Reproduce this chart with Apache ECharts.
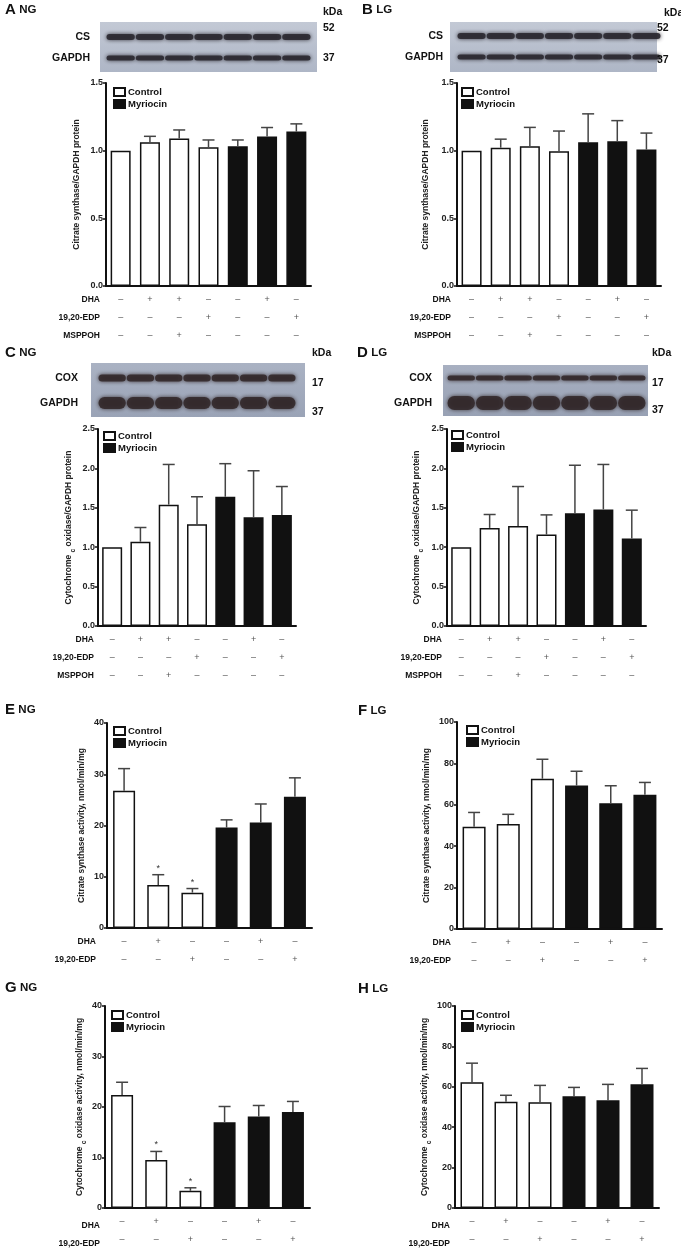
<!DOCTYPE html>
<html>
<head>
<meta charset="utf-8">
<title>Citrate synthase and cytochrome c oxidase</title>
<script src="https://cdn.jsdelivr.net/npm/echarts@6.0.0/dist/echarts.min.js"></script>
<style>
  html, body { margin: 0; padding: 0; background: #fff; }
  #main { width: 681px; height: 1249px; }
</style>
</head>
<body>
<div id="main"></div>
<script>
const FONT = '"Liberation Sans", Arial, sans-serif';

// lanes for the protein panels (A-D)
const proteinLanes = ['Vehicle', 'DHA', 'DHA+MSPPOH', '19,20-EDP', 'Myriocin', 'Myriocin+DHA', 'Myriocin+19,20-EDP'];
const proteinGroup = ['Control', 'Control', 'Control', 'Control', 'Myriocin', 'Myriocin', 'Myriocin'];
const proteinDHA = [0, 1, 1, 0, 0, 1, 0];
const proteinEDP = [0, 0, 0, 1, 0, 0, 1];
const proteinMSPPOH = [0, 0, 1, 0, 0, 0, 0];

// lanes for the activity panels (E-H)
const activityLanes = ['Vehicle', 'DHA', '19,20-EDP', 'Myriocin', 'Myriocin+DHA', 'Myriocin+19,20-EDP'];
const activityGroup = ['Control', 'Control', 'Control', 'Myriocin', 'Myriocin', 'Myriocin'];
const activityDHA = [0, 1, 0, 0, 1, 0];
const activityEDP = [0, 0, 1, 0, 0, 1];

// A - NG, citrate synthase / GAPDH
const csProteinNG = [1.00, 1.062, 1.089, 1.025, 1.032, 1.104, 1.141];
const csProteinNGErr = [0, 0.044, 0.064, 0.054, 0.047, 0.067, 0.057];
// B - LG, citrate synthase / GAPDH
const csProteinLG = [1.00, 1.022, 1.032, 0.995, 1.062, 1.07, 1.008];
const csProteinLGErr = [0, 0.063, 0.14, 0.15, 0.21, 0.152, 0.122];
// C - NG, cytochrome c oxidase / GAPDH
const coxProteinNG = [1.00, 1.07, 1.54, 1.29, 1.64, 1.38, 1.41];
const coxProteinNGErr = [0, 0.18, 0.51, 0.35, 0.42, 0.59, 0.36];
// D - LG, cytochrome c oxidase / GAPDH
const coxProteinLG = [1.00, 1.245, 1.27, 1.16, 1.43, 1.48, 1.11];
const coxProteinLGErr = [0, 0.17, 0.50, 0.25, 0.61, 0.57, 0.36];
// E - NG, citrate synthase activity
const csActivityNG = [26.8, 8.4, 6.9, 19.6, 20.6, 25.6];
const csActivityNGErr = [4.3, 2.0, 0.8, 1.5, 3.6, 3.7];
const csActivityNGStars = ['', '*', '*', '', '', ''];
// F - LG, citrate synthase activity
const csActivityLG = [49.4, 50.7, 72.6, 69.3, 60.8, 64.8];
const csActivityLGErr = [6.9, 4.7, 9.4, 6.9, 8.4, 6.0];
// G - NG, cytochrome c oxidase activity
const coxActivityNG = [22.4, 9.5, 3.4, 17.0, 18.1, 19.0];
const coxActivityNGErr = [2.5, 1.7, 0.6, 3.1, 2.2, 2.1];
const coxActivityNGStars = ['', '*', '*', '', '', ''];
// H - LG, cytochrome c oxidase activity
const coxActivityLG = [62.3, 52.6, 52.4, 55.3, 53.4, 61.3];
const coxActivityLGErr = [9.4, 3.2, 8.3, 4.4, 7.8, 7.8];

const proteinRows = [['DHA', proteinDHA], ['19,20-EDP', proteinEDP], ['MSPPOH', proteinMSPPOH]];
const activityRows = [['DHA', activityDHA], ['19,20-EDP', activityEDP]];

const csProteinName = 'Citrate synthase/GAPDH protein';
const coxProteinName = 'Cytochrome {s|c} oxidase/GAPDH protein';
const csActivityName = 'Citrate synthase activity, nmol/min/mg';
const coxActivityName = 'Cytochrome {s|c} oxidase activity, nmol/min/mg';

const panels = [
  { tag: 'A', cond: 'NG', lanes: proteinLanes, group: proteinGroup, rows: proteinRows, mean: csProteinNG, err: csProteinNGErr,
    yMax: 1.5, yStep: 0.5, digits: 1, yName: csProteinName, grid: { left: 106, top: 83, width: 205, height: 203 },
    nameGap: 21, barWidth: 20, legend: [113, 87], label: [5, 10], rowGap: 6 },
  { tag: 'B', cond: 'LG', lanes: proteinLanes, group: proteinGroup, rows: proteinRows, mean: csProteinLG, err: csProteinLGErr,
    yMax: 1.5, yStep: 0.5, digits: 1, yName: csProteinName, grid: { left: 457, top: 83, width: 204, height: 203 },
    nameGap: 23, barWidth: 20, legend: [461, 87], label: [362, 10], rowGap: 6 },
  { tag: 'C', cond: 'NG', lanes: proteinLanes, group: proteinGroup, rows: proteinRows, mean: coxProteinNG, err: coxProteinNGErr,
    yMax: 2.5, yStep: 0.5, digits: 1, yName: coxProteinName, grid: { left: 98, top: 429, width: 198, height: 197 },
    nameGap: 21, barWidth: 20, legend: [103, 431], label: [5, 353], rowGap: 4 },
  { tag: 'D', cond: 'LG', lanes: proteinLanes, group: proteinGroup, rows: proteinRows, mean: coxProteinLG, err: coxProteinLGErr,
    yMax: 2.5, yStep: 0.5, digits: 1, yName: coxProteinName, grid: { left: 447, top: 429, width: 199, height: 197 },
    nameGap: 22, barWidth: 20, legend: [451, 430], label: [357, 353], rowGap: 5 },
  { tag: 'E', cond: 'NG', lanes: activityLanes, group: activityGroup, rows: activityRows, mean: csActivityNG, err: csActivityNGErr,
    stars: csActivityNGStars, yMax: 40, yStep: 10, digits: 0, yName: csActivityName, grid: { left: 107, top: 723, width: 205, height: 205 },
    nameGap: 15, barWidth: 22, legend: [113, 726], label: [5, 710], rowGap: 11 },
  { tag: 'F', cond: 'LG', lanes: activityLanes, group: activityGroup, rows: activityRows, mean: csActivityLG, err: csActivityLGErr,
    yMax: 100, yStep: 20, digits: 0, yName: csActivityName, grid: { left: 457, top: 722, width: 205, height: 207 },
    nameGap: 14, barWidth: 23, legend: [466, 725], label: [358, 711], rowGap: 6 },
  { tag: 'G', cond: 'NG', lanes: activityLanes, group: activityGroup, rows: activityRows, mean: coxActivityNG, err: coxActivityNGErr,
    stars: coxActivityNGStars, yMax: 40, yStep: 10, digits: 0, yName: coxActivityName, grid: { left: 105, top: 1006, width: 205, height: 206 },
    nameGap: 17, barWidth: 22, legend: [111, 1010], label: [5, 988], rowGap: 5 },
  { tag: 'H', cond: 'LG', lanes: activityLanes, group: activityGroup, rows: activityRows, mean: coxActivityLG, err: coxActivityLGErr,
    yMax: 100, yStep: 20, digits: 0, yName: coxActivityName, grid: { left: 455, top: 1006, width: 204, height: 206 },
    nameGap: 21, barWidth: 23, legend: [461, 1010], label: [358, 989], rowGap: 5 }
];

// western blot strips above panels A-D
const blots = [
  { panel: 0, rect: [100, 22, 217, 50], bg: ['#c3c9d5', '#aeb6c6'], band: '#2a2830', labelRight: 90,
    bands: [{ name: 'CS', y: 37, h: 6 }, { name: 'GAPDH', y: 58, h: 5 }], kda: [323, 12], marks: [['52', 323, 28], ['37', 323, 58]] },
  { panel: 1, rect: [450, 22, 207, 50], bg: ['#c3c9d5', '#aeb6c6'], band: '#2a2830', labelRight: 443,
    bands: [{ name: 'CS', y: 36, h: 6 }, { name: 'GAPDH', y: 57, h: 5 }], kda: [664, 13], marks: [['52', 657, 28], ['37', 657, 60]] },
  { panel: 2, rect: [91, 363, 214, 54], bg: ['#aab2c3', '#9aa3b6'], band: '#33292b', labelRight: 78,
    bands: [{ name: 'COX', y: 378, h: 7 }, { name: 'GAPDH', y: 403, h: 12 }], kda: [312, 353], marks: [['17', 312, 383], ['37', 312, 412]] },
  { panel: 3, rect: [443, 365, 205, 51], bg: ['#a8b0c1', '#98a1b4'], band: '#33292b', labelRight: 432,
    bands: [{ name: 'COX', y: 378, h: 5 }, { name: 'GAPDH', y: 403, h: 14 }], kda: [652, 353], marks: [['17', 652, 383], ['37', 652, 410]] }
];

function errorRenderer(stars) {
  return function (params, api) {
    const i = api.value(0), m = api.value(1), e = api.value(2);
    const base = api.coord([i, m]);
    const top = api.coord([i, m + e]);
    const children = [];
    if (e > 0) {
      children.push({ type: 'line', shape: { x1: base[0], y1: base[1], x2: top[0], y2: top[1] }, style: { stroke: '#444', lineWidth: 1.5 } });
      children.push({ type: 'line', shape: { x1: top[0] - 6, y1: top[1], x2: top[0] + 6, y2: top[1] }, style: { stroke: '#444', lineWidth: 1.5 } });
    }
    const s = stars ? stars[params.dataIndex] : '';
    if (s) {
      children.push({ type: 'text', style: { text: s, x: top[0], y: top[1] - 2, align: 'center', verticalAlign: 'bottom', fontSize: 9, fill: '#333', fontFamily: FONT } });
    }
    return { type: 'group', children };
  };
}

const grids = [], xAxes = [], yAxes = [], series = [], legends = [];
panels.forEach((p, k) => {
  grids.push(Object.assign({ containLabel: false }, p.grid));
  xAxes.push({
    type: 'category', gridIndex: k, data: p.lanes,
    axisLine: { lineStyle: { color: '#111', width: 2 } },
    axisTick: { show: false },
    axisLabel: {
      interval: 0, margin: 5, fontSize: 9, lineHeight: 18, color: '#555', fontFamily: FONT,
      formatter: (v, idx) => p.rows.map(r => (r[1][idx] ? '+' : '\u2013')).join('\n')
    }
  });
  yAxes.push({
    type: 'value', gridIndex: k, min: 0, max: p.yMax, interval: p.yStep,
    splitLine: { show: false },
    axisLine: { show: true, lineStyle: { color: '#111', width: 2 } },
    axisTick: { show: true, length: 3, lineStyle: { color: '#111', width: 1.5 } },
    axisLabel: { fontSize: 9, fontWeight: 'bold', color: '#222', margin: 3, fontFamily: FONT, formatter: v => v.toFixed(p.digits) },
    name: p.yName, nameLocation: 'middle', nameGap: p.nameGap,
    nameTextStyle: {
      fontSize: 8.5, fontWeight: 'bold', color: '#222', fontFamily: FONT, lineHeight: 16,
      rich: { s: { fontSize: 6.5, fontWeight: 'bold', color: '#222', fontFamily: FONT, lineHeight: 8, verticalAlign: 'bottom' } }
    }
  });
  ['Control', 'Myriocin'].forEach(g => {
    series.push({
      type: 'bar', name: g, xAxisIndex: k, yAxisIndex: k, barWidth: p.barWidth, barGap: '-100%',
      data: p.mean.map((v, i) => (p.group[i] === g ? v : '-')),
      itemStyle: { color: g === 'Control' ? '#fff' : '#111', borderColor: '#111', borderWidth: 1.5 },
      silent: true
    });
  });
  series.push({
    type: 'custom', xAxisIndex: k, yAxisIndex: k, z: 5, silent: true,
    encode: { x: 0, y: 1 },
    data: p.mean.map((v, i) => [i, v, p.err[i]]),
    renderItem: errorRenderer(p.stars)
  });
  legends.push({
    left: p.legend[0], top: p.legend[1], orient: 'vertical', padding: 0, itemGap: 2,
    itemWidth: 11, itemHeight: 8, icon: 'rect', selectedMode: false,
    data: ['Control', 'Myriocin'],
    textStyle: { fontFamily: FONT, fontWeight: 'bold', fontSize: 9.5, color: '#111', padding: [0, 0, 0, -2] }
  });
});

const chart = echarts.init(document.getElementById('main'), null, { renderer: 'canvas' });
chart.setOption({
  backgroundColor: '#fff',
  animation: false,
  grid: grids,
  xAxis: xAxes,
  yAxis: yAxes,
  legend: legends,
  series: series
});

// texts and blot strips, placed after the axes exist
const graphics = [];
const boldText = (text, x, y, size, align) => ({
  type: 'text', x: x, y: y, silent: true,
  style: { text: text, fontFamily: FONT, fontWeight: 'bold', fontSize: size, fill: '#111', align: align || 'left', verticalAlign: 'middle' }
});

panels.forEach((p, k) => {
  graphics.push({
    type: 'text', x: p.label[0], y: p.label[1], silent: true,
    style: {
      text: '{l|' + p.tag + '} {s|' + p.cond + '}', verticalAlign: 'middle', fill: '#111',
      rich: {
        l: { fontFamily: FONT, fontWeight: 'bold', fontSize: 15, fill: '#111' },
        s: { fontFamily: FONT, fontWeight: 'bold', fontSize: 11.5, fill: '#111' }
      }
    }
  });
  const bottom = p.grid.top + p.grid.height;
  p.rows.forEach((r, j) => {
    graphics.push(boldText(r[0], p.grid.left - p.rowGap, bottom + 14 + 18 * j, 8.5, 'right'));
  });
});

blots.forEach(b => {
  const [x, y, w, h] = b.rect;
  graphics.push({
    type: 'rect', silent: true, shape: { x: x, y: y, width: w, height: h },
    style: { fill: new echarts.graphic.LinearGradient(0, 0, 0, 1, [{ offset: 0, color: b.bg[0] }, { offset: 1, color: b.bg[1] }]) }
  });
  const n = panels[b.panel].lanes.length;
  const c0 = chart.convertToPixel({ gridIndex: b.panel }, [0, 0])[0];
  const c1 = chart.convertToPixel({ gridIndex: b.panel }, [1, 0])[0];
  const laneW = (c1 - c0) - 1;
  b.bands.forEach(band => {
    for (let i = 0; i < n; i++) {
      const cx = chart.convertToPixel({ gridIndex: b.panel }, [i, 0])[0];
      graphics.push({
        type: 'rect', silent: true,
        shape: { x: cx - laneW / 2, y: band.y - band.h / 2, width: laneW, height: band.h, r: band.h / 2 },
        style: { fill: b.band, shadowBlur: 4, shadowColor: b.band, opacity: 0.9 }
      });
    }
    graphics.push(boldText(band.name, b.labelRight, band.y, 10.5, 'right'));
  });
  graphics.push(boldText('kDa', b.kda[0], b.kda[1], 10.5));
  b.marks.forEach(m => graphics.push(boldText(m[0], m[1], m[2], 10.5)));
});

chart.setOption({ graphic: graphics });
</script>
</body>
</html>
